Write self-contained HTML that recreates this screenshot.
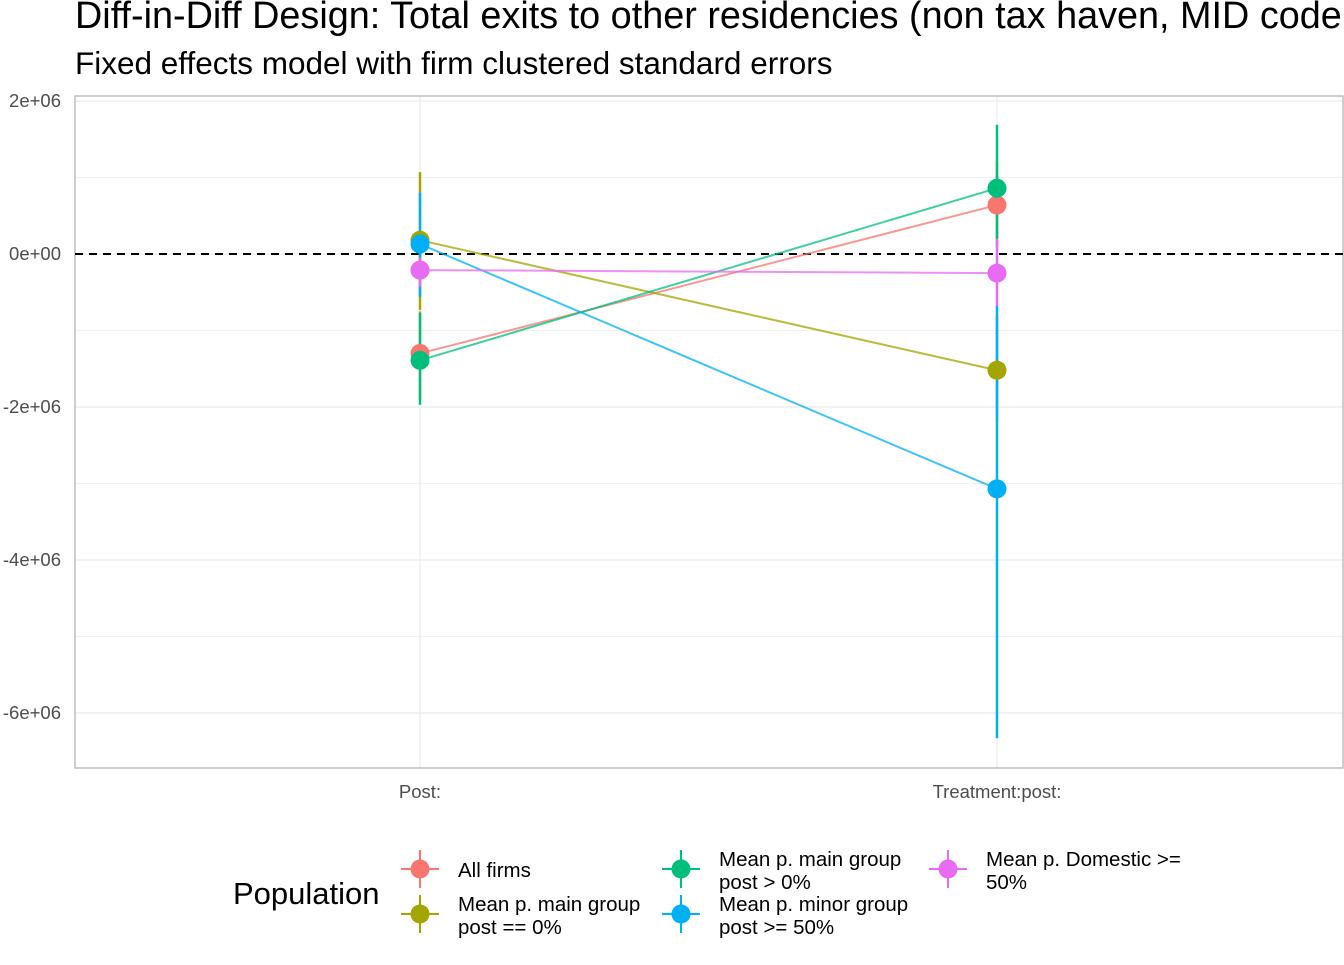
<!DOCTYPE html>
<html><head><meta charset="utf-8"><style>
body{margin:0;background:#fff;font-family:"Liberation Sans",sans-serif;}
</style></head><body>
<svg width="1344" height="960" xmlns="http://www.w3.org/2000/svg" font-family="Liberation Sans, sans-serif">
<text x="75" y="28" font-size="37.8" fill="#000">Diff-in-Diff Design: Total exits to other residencies (non tax haven, MID code</text>
<text x="75" y="74" font-size="31.5" fill="#000">Fixed effects model with firm clustered standard errors</text>
<g id="plot"></g>
<g id="legend"></g>
</svg>
<script>
const categories=["Post:","Treatment:post:"];
const seriesNames=["All firms","Mean p. main group post == 0%","Mean p. main group post > 0%","Mean p. minor group post >= 50%","Mean p. Domestic >= 50%"];
const colors=["#F8766D","#A3A500","#00BF7D","#00B0F6","#E76BF3"];
const estimates=[[-1.30,0.64],[0.18,-1.52],[-1.39,0.86],[0.13,-3.07],[-0.21,-0.25]];
const lowers=[[-1.90,0.10],[-0.73,-2.20],[-1.97,0.20],[-0.56,-6.33],[-0.43,-0.68]];
const uppers=[[-0.75,1.20],[1.07,-0.80],[-0.77,1.69],[0.80,-0.68],[-0.05,0.20]];
const yTicks=[2,0,-2,-4,-6];
const yTickLabels=["2e+06","0e+00","-2e+06","-4e+06","-6e+06"];
const NS="http://www.w3.org/2000/svg";
const L=75,R=1343,T=96,B=768;
const y=v=>254-76.5*v;
const x=i=>[420,997][i];
const g=document.getElementById('plot');
function mk(tag,attrs,parent){const e=document.createElementNS(NS,tag);for(const k in attrs)e.setAttribute(k,attrs[k]);(parent||g).appendChild(e);return e;}
for(let v=2;v>=-6;v-=1){const minor=v%2!==0;const l=mk('line',{x1:L,x2:R,y1:y(v),y2:y(v),stroke:'#ebebeb','stroke-width':minor?0.7:1.2});

}
categories.forEach((c,i)=>{const l=mk('line',{x1:x(i),x2:x(i),y1:T,y2:B,stroke:'#ebebeb','stroke-width':1.2});


const t=mk('text',{x:x(i),y:798,'font-size':18.5,fill:'#4d4d4d','text-anchor':'middle'});t.textContent=c;

});
yTicks.forEach((v,i)=>{const t=mk('text',{x:61,y:y(v)+6,'font-size':18.5,fill:'#4d4d4d','text-anchor':'end'});t.textContent=yTickLabels[i];

});
const fr=mk('rect',{x:L,y:T,width:R-L,height:B-T,fill:'none',stroke:'#b3b3b3','stroke-width':1.3});


const zl=mk('line',{x1:L,x2:R,y1:y(0),y2:y(0),stroke:'#000','stroke-width':2,'stroke-dasharray':'8,6'});


seriesNames.forEach((s,k)=>{const l=mk('line',{x1:x(0),y1:y(estimates[k][0]),x2:x(1),y2:y(estimates[k][1]),stroke:colors[k],'stroke-width':2,opacity:0.75});

});
seriesNames.forEach((s,k)=>categories.forEach((c,i)=>{const l=mk('line',{x1:x(i),x2:x(i),y1:y(lowers[k][i]),y2:y(uppers[k][i]),stroke:colors[k],'stroke-width':2.5});

}));
seriesNames.forEach((s,k)=>categories.forEach((c,i)=>{const p=mk('circle',{cx:x(i),cy:y(estimates[k][i]),r:9.5,fill:colors[k]});

}));
const lg=document.getElementById('legend');
const lt=mk('text',{x:233,y:904,'font-size':31,fill:'#000'},lg);lt.textContent='Population';


const pos=[[420,869],[420,914],[681,869],[681,914],[948,869]];
const lines=[["All firms"],["Mean p. main group","post == 0%"],["Mean p. main group","post > 0%"],["Mean p. minor group","post >= 50%"],["Mean p. Domestic >=","50%"]];
seriesNames.forEach((s,k)=>{const [cx,cy]=pos[k];const eg=mk('g',{},lg);


mk('line',{x1:cx-19,x2:cx+19,y1:cy,y2:cy,stroke:colors[k],'stroke-width':2},eg);
mk('line',{x1:cx,x2:cx,y1:cy-19,y2:cy+19,stroke:colors[k],'stroke-width':2},eg);
mk('circle',{cx:cx,cy:cy,r:9.5,fill:colors[k]},eg);
const ls=lines[k];ls.forEach((t,j)=>{const tt=mk('text',{x:cx+38,y:ls.length===1?cy+8:cy-3+j*23,'font-size':20.5,fill:'#000'},eg);tt.textContent=t;});});
</script>
</body></html>
